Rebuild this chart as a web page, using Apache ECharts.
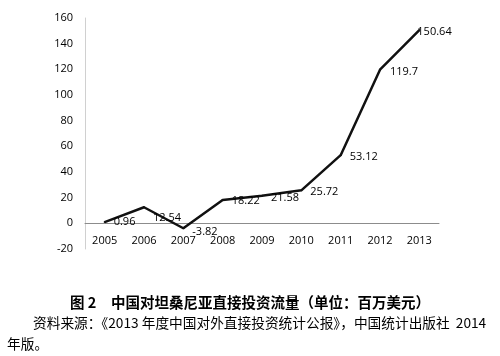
<!DOCTYPE html>
<html><head><meta charset="utf-8">
<script src="https://cdn.jsdelivr.net/npm/echarts@6/dist/echarts.min.js"></script>
<style>html,body{margin:0;padding:0;background:#fff}#c{width:500px;height:356px}</style>
</head><body><div id="c"></div>
<script>
const years = ['2005','2006','2007','2008','2009','2010','2011','2012','2013'];
const flows = [0.96, 12.54, -3.82, 18.22, 21.58, 25.72, 53.12, 119.7, 150.64];
const yTicks = [-20, 0, 20, 40, 60, 80, 100, 120, 140, 160];
const captionText = '图 2　中国对坦桑尼亚直接投资流量（单位：百万美元）';
const sourceLine1 = '资料来源：《2013 年度中国对外直接投资统计公报》，中国统计出版社  2014';
const sourceLine2 = '年版。';

const labelOffsets = [[0,0],[0,11],[0,4],[0,1],[0,2],[0,2],[0,2],[1,2.5],[-11,1.5]];

const chart = echarts.init(document.getElementById('c'), null, {renderer:'canvas'});
chart.setOption({
  animation: false,
  backgroundColor: '#fff',
  grid: {left: 85, top: 18, width: 354, height: 231},
  xAxis: {
    type: 'category', data: years, boundaryGap: true,
    axisLine: {onZero: true, lineStyle: {color: '#8c8c8c', width: 1}},
    axisTick: {show: false},
    axisLabel: {color: '#000', fontSize: 11, margin: -14, fontFamily: 'Open Sans'}
  },
  yAxis: {
    type: 'value', min: yTicks[0], max: yTicks[yTicks.length-1], interval: 20,
    axisLine: {show: true, lineStyle: {color: '#d0d0d0', width: 1}},
    axisTick: {show: false},
    splitLine: {show: false},
    axisLabel: {color: '#000', fontSize: 11, margin: 12, fontFamily: 'Open Sans'}
  },
  series: [{
    type: 'line', data: flows.map((v, i) => ({value: v, label: {show: true, offset: labelOffsets[i]}})),
    symbol: 'circle', symbolSize: 2, showSymbol: true, showAllSymbol: true,
    itemStyle: {color: '#111'},
    lineStyle: {color: '#111', width: 2.5},
    label: {show: true, position: 'right', distance: 8, color: '#000', fontSize: 11, fontFamily: 'Open Sans',
      formatter: p => String(flows[p.dataIndex])}
  }],
  graphic: [
    {type: 'text', left: 'center', top: 295, style: {text: captionText, font: 'bold 14.5px "Noto Sans CJK SC"', fill: '#000'}},
    {type: 'text', left: 33, top: 316, style: {text: sourceLine1, font: '13.7px "Noto Sans CJK SC"', fill: '#000'}},
    {type: 'text', left: 7, top: 337, style: {text: sourceLine2, font: '13.7px "Noto Sans CJK SC"', fill: '#000'}}
  ]
});
</script></body></html>
